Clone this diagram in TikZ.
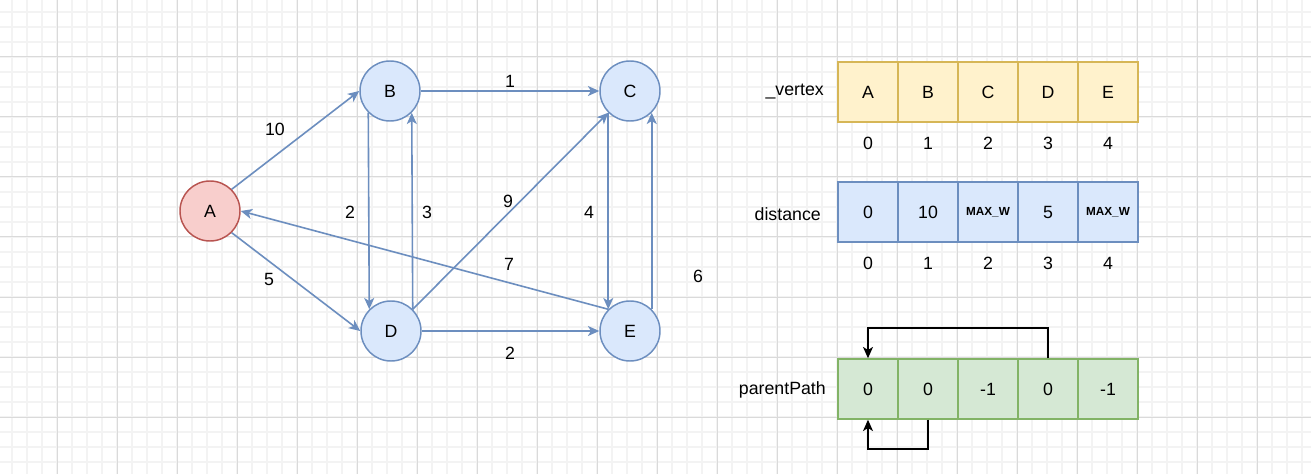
\documentclass[tikz,border=0pt]{standalone}
\usepackage{fontspec}
\setmainfont{Liberation Sans}
\usetikzlibrary{arrows.meta}
\definecolor{edgeblue}{HTML}{6C8EBF}
\definecolor{nodeblue}{HTML}{DAE8FC}
\definecolor{nodered}{HTML}{F8CECC}
\definecolor{strokered}{HTML}{B85450}
\definecolor{cellyellow}{HTML}{FFF2CC}
\definecolor{strokeyellow}{HTML}{D6B656}
\definecolor{cellgreen}{HTML}{D5E8D4}
\definecolor{strokegreen}{HTML}{82B366}
\definecolor{gridminor}{HTML}{F3F3F3}
\definecolor{gridmajor}{HTML}{DADADA}
\begin{document}
\begin{tikzpicture}[x=0.75pt,y=-0.75pt,
  every node/.style={font=\fontsize{13.3}{15}\selectfont},
  minorgrid/.style={draw=gridminor,line width=1.1pt},
  majorgrid/.style={draw=gridmajor,line width=0.75pt},
  vert/.style={circle,draw=edgeblue,fill=nodeblue,line width=1.1pt,minimum size=45pt,inner sep=0pt},
  vertred/.style={vert,draw=strokered,fill=nodered},
  edge/.style={draw=edgeblue,line width=1.2pt,-{Stealth[length=8.5pt,width=7.5pt,inset=2.3pt]}},
  elabel/.style={inner sep=1pt},
  cell/.style={rectangle,line width=1.1pt,minimum width=45pt,minimum height=45pt,inner sep=0pt},
  ycell/.style={cell,draw=strokeyellow,fill=cellyellow},
  bcell/.style={cell,draw=edgeblue,fill=nodeblue},
  gcell/.style={cell,draw=strokegreen,fill=cellgreen},
  rowlabel/.style={anchor=east,inner sep=0pt},
  ptr/.style={draw=black,line width=1.2pt,-{Stealth[length=8.5pt,width=7.5pt,inset=2.3pt]}},
  small/.style={font=\fontsize{8.8}{10}\selectfont\bfseries}
]
\useasboundingbox (0,0) rectangle (1311,474);
\fill[white] (0,0) rectangle (1311,474);
\foreach \x in {12,27,...,1311} \draw[minorgrid] (\x,0) -- (\x,474);
\foreach \y in {12,27,...,474} \draw[minorgrid] (0,\y) -- (1311,\y);
\foreach \x in {57,117,...,1311} \draw[majorgrid] (\x,0) -- (\x,474);
\foreach \y in {57,117,...,474} \draw[majorgrid] (0,\y) -- (1311,\y);

% graph
\node[vertred] (A) at (210,211) {A};
\node[vert] (B) at (390,91) {B};
\node[vert] (C) at (630,91) {C};
\node[vert] (D) at (391,331) {D};
\node[vert] (E) at (630,331) {E};

\draw[edge] (A.north east) -- (B.west);
\draw[edge] (A.south east) -- (D.west);
\draw[edge] (B.south west) -- (D.north west);
\draw[edge] (D.north east) -- (B.south east);
\draw[edge] (B.east) -- (C.west);
\draw[edge] (D.north east) -- (C.south west);
\draw[edge] (C.south west) -- (E.north west);
\draw[edge] (E.north east) -- (C.south east);
\draw[edge] (E.north west) -- (A.east);
\draw[edge] (D.east) -- (E.west);

\node[elabel] (l10) at (275,129) {10};
\node[elabel] (l5) at (269,279) {5};
\node[elabel] (l2a) at (350,212) {2};
\node[elabel] (l3) at (427,212) {3};
\node[elabel] (l1) at (510,81) {1};
\node[elabel] (l9) at (508,201) {9};
\node[elabel] (l4) at (589,212) {4};
\node[elabel] (l7) at (509,264) {7};
\node[elabel] (l6) at (698,276) {6};
\node[elabel] (l2b) at (510,353) {2};

% arrays
\node[rowlabel] (vlab) at (824,92) {\_vertex};
\node[ycell] (v0) at (868,92) {A};
\node[ycell] (v1) at (928,92) {B};
\node[ycell] (v2) at (988,92) {C};
\node[ycell] (v3) at (1048,92) {D};
\node[ycell] (v4) at (1108,92) {E};
\foreach \i/\x in {0/868,1/928,2/988,3/1048,4/1108}
  \node (vi\i) at (\x,143) {\i};

\node[rowlabel] (dlab) at (821,214) {distance};
\node[bcell] (d0) at (868,212) {0};
\node[bcell] (d1) at (928,212) {10};
\node[bcell,small] (d2) at (988,212) {MAX\_W};
\node[bcell] (d3) at (1048,212) {5};
\node[bcell,small] (d4) at (1108,212) {MAX\_W};
\foreach \i/\x in {0/868,1/928,2/988,3/1048,4/1108}
  \node (di\i) at (\x,263) {\i};

\node[rowlabel] (plab) at (826,390) {parentPath};
\node[gcell] (p0) at (868,389) {0};
\node[gcell] (p1) at (928,389) {0};
\node[gcell] (p2) at (988,389) {-1};
\node[gcell] (p3) at (1048,389) {0};
\node[gcell] (p4) at (1108,389) {-1};

\draw[ptr] (p3.north) -- ++(0,-30) -| (p0.north);
\draw[ptr] (p1.south) -- ++(0,29) -| (p0.south);
\end{tikzpicture}
\end{document}
